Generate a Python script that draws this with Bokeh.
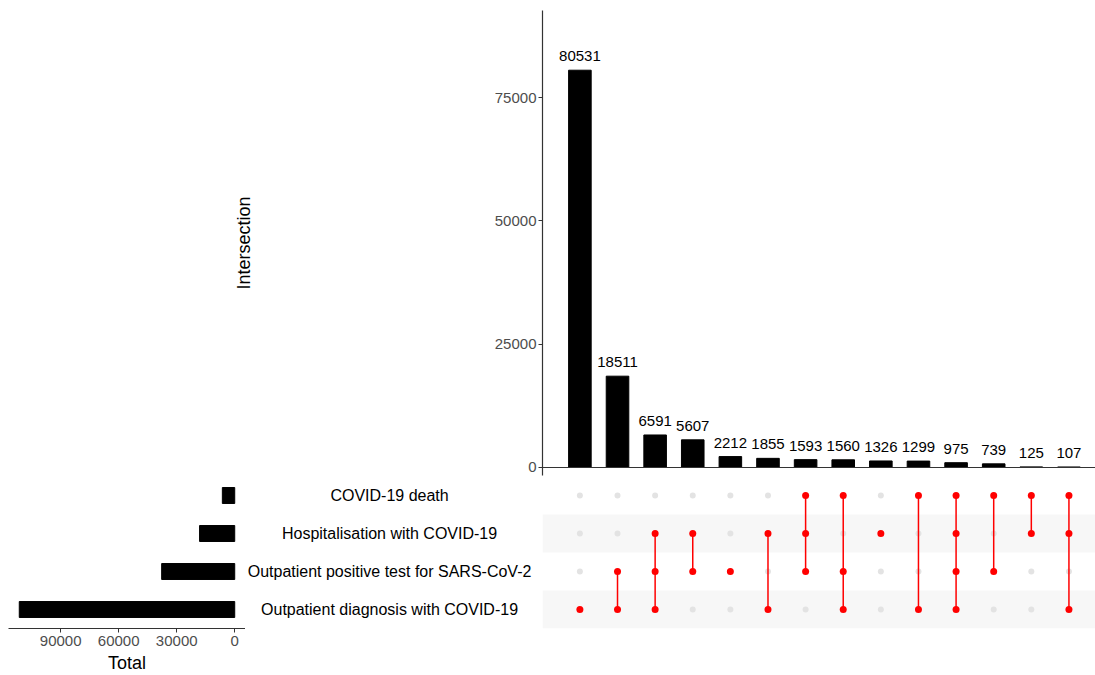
from bokeh.plotting import figure
from bokeh.layouts import column, row
from bokeh.models import Range1d, FixedTicker, Span, BoxAnnotation, ColumnDataSource
from bokeh.embed import file_html
from bokeh.resources import INLINE

# ---------------- data ----------------
set_names = [
    "COVID-19 death",
    "Hospitalisation with COVID-19",
    "Outpatient positive test for SARS-CoV-2",
    "Outpatient diagnosis with COVID-19",
]
set_totals = [6398, 18179, 37788, 111429]

intersection_counts = [80531, 18511, 6591, 5607, 2212, 1855, 1593, 1560,
                       1326, 1299, 975, 739, 125, 107]

D, H, P, O = set_names
intersection_members = [
    [O],
    [P, O],
    [H, P, O],
    [H, P],
    [P],
    [H, O],
    [D, H, P],
    [D, P, O],
    [H],
    [D, O],
    [D, H, P, O],
    [D, P],
    [D, H],
    [D, H, O],
]

y_ticks_top = [0, 25000, 50000, 75000]
x_ticks_left = [0, 30000, 60000, 90000]

# ---------------- styling ----------------
FONT = "Liberation Sans"
AXIS_COL = "#333333"
TICK_COL = "#4D4D4D"
RED = "#FF0000"
GREY_DOT = "#E3E3E3"
BAND = "#F7F7F7"

n_sets = len(set_names)
n_int = len(intersection_counts)
xs = list(range(1, n_int + 1))
row_of = {name: n_sets - i for i, name in enumerate(set_names)}  # death on top

shared_x = Range1d(0.006, 14.706)
row_range = Range1d(0.5, n_sets + 0.5)


def clean(p):
    p.toolbar.logo = None
    p.xgrid.visible = False
    p.ygrid.visible = False
    p.outline_line_color = None
    p.background_fill_color = "white"
    p.border_fill_color = "white"


# ---------------- top: intersection sizes ----------------
top = figure(width=1095, height=476, x_range=shared_x, y_range=Range1d(-1622, 92636),
             output_backend="svg", toolbar_location=None, x_axis_location=None,
             min_border_left=542, min_border_right=0, min_border_top=10, min_border_bottom=1)
clean(top)
src_top = ColumnDataSource(dict(x=xs, top=intersection_counts,
                                label=[str(v) for v in intersection_counts]))
top.vbar(x="x", top="top", width=0.6, bottom=0, source=src_top,
         fill_color="black", line_color="black")
top.text(x="x", y="top", text="label", source=src_top, text_align="center",
         text_baseline="alphabetic", y_offset=-14, text_font_size="15px",
         text_color="black", text_font={"value": FONT})
top.add_layout(Span(location=0, dimension="width", line_color=AXIS_COL, line_width=1.2))
ya = top.yaxis[0]
ya.ticker = FixedTicker(ticks=y_ticks_top)
ya.minor_tick_line_color = None
ya.major_tick_out = 4
ya.major_tick_in = 0
ya.major_tick_line_color = AXIS_COL
ya.axis_line_color = AXIS_COL
ya.axis_line_width = 1.2
ya.major_label_text_font = FONT
ya.major_label_text_font_size = "15px"
ya.major_label_text_color = TICK_COL
ya.major_label_standoff = 2
ya.axis_label = "Intersection"
ya.axis_label_text_font = FONT
ya.axis_label_text_font_size = "18px"
ya.axis_label_text_font_style = "normal"
ya.axis_label_text_color = "black"
ya.axis_label_standoff = 238
ya.formatter.use_scientific = False

# ---------------- bottom left: set totals ----------------
left = figure(width=245, height=199, x_range=Range1d(117000, -5571), y_range=row_range,
              output_backend="svg", toolbar_location=None, y_axis_location=None,
              min_border_left=8, min_border_right=0, min_border_top=0, min_border_bottom=46)
clean(left)
src_left = ColumnDataSource(dict(y=[row_of[s] for s in set_names], right=set_totals))
left.hbar(y="y", right="right", left=0, height=0.42, source=src_left,
          fill_color="black", line_color="black")
xa = left.xaxis[0]
xa.ticker = FixedTicker(ticks=x_ticks_left)
xa.minor_tick_line_color = None
xa.major_tick_out = 4
xa.major_tick_in = 0
xa.major_tick_line_color = AXIS_COL
xa.axis_line_color = AXIS_COL
xa.axis_line_width = 1.2
xa.major_label_text_font = FONT
xa.major_label_text_font_size = "15px"
xa.major_label_text_color = TICK_COL
xa.major_label_standoff = 3
xa.axis_label = "Total"
xa.axis_label_text_font = FONT
xa.axis_label_text_font_size = "18px"
xa.axis_label_text_font_style = "normal"
xa.axis_label_text_color = "black"
xa.axis_label_standoff = 4
xa.formatter.use_scientific = False

# ---------------- bottom middle: set names ----------------
names = figure(width=297, height=199, x_range=Range1d(0, 1), y_range=row_range,
               output_backend="svg", toolbar_location=None,
               x_axis_location=None, y_axis_location=None,
               min_border_left=0, min_border_right=0, min_border_top=0, min_border_bottom=46)
clean(names)
src_names = ColumnDataSource(dict(x=[0.485] * n_sets, y=[row_of[s] for s in set_names],
                                  text=set_names))
names.text(x="x", y="y", text="text", source=src_names, text_align="center",
           text_baseline="middle", text_font_size="16px", text_color="black",
           text_font={"value": FONT})

# ---------------- bottom right: matrix ----------------
mat = figure(width=553, height=199, x_range=shared_x, y_range=row_range,
             output_backend="svg", toolbar_location=None,
             x_axis_location=None, y_axis_location=None,
             min_border_left=0, min_border_right=0, min_border_top=0, min_border_bottom=46)
clean(mat)
for i, s in enumerate(set_names):
    if i % 2 == 1:
        r = row_of[s]
        mat.add_layout(BoxAnnotation(bottom=r - 0.5, top=r + 0.5, fill_color=BAND,
                                     fill_alpha=1, line_color=None, level="underlay"))

gx, gy, rx, ry = [], [], [], []
sx0, sy0, sy1 = [], [], []
for x, members in zip(xs, intersection_members):
    rows_in = [row_of[m] for m in members]
    for s in set_names:
        if s in members:
            rx.append(x); ry.append(row_of[s])
        else:
            gx.append(x); gy.append(row_of[s])
    if len(rows_in) > 1:
        sx0.append(x); sy0.append(min(rows_in)); sy1.append(max(rows_in))

mat.scatter(gx, gy, size=6, fill_color=GREY_DOT, line_color=None)
mat.segment(x0=sx0, y0=sy0, x1=sx0, y1=sy1, line_color=RED, line_width=1.5)
mat.scatter(rx, ry, size=7, fill_color=RED, line_color=None)

layout = column(top, row(left, names, mat, spacing=0), spacing=0)

open("out.html", "w").write(file_html(layout, INLINE))
